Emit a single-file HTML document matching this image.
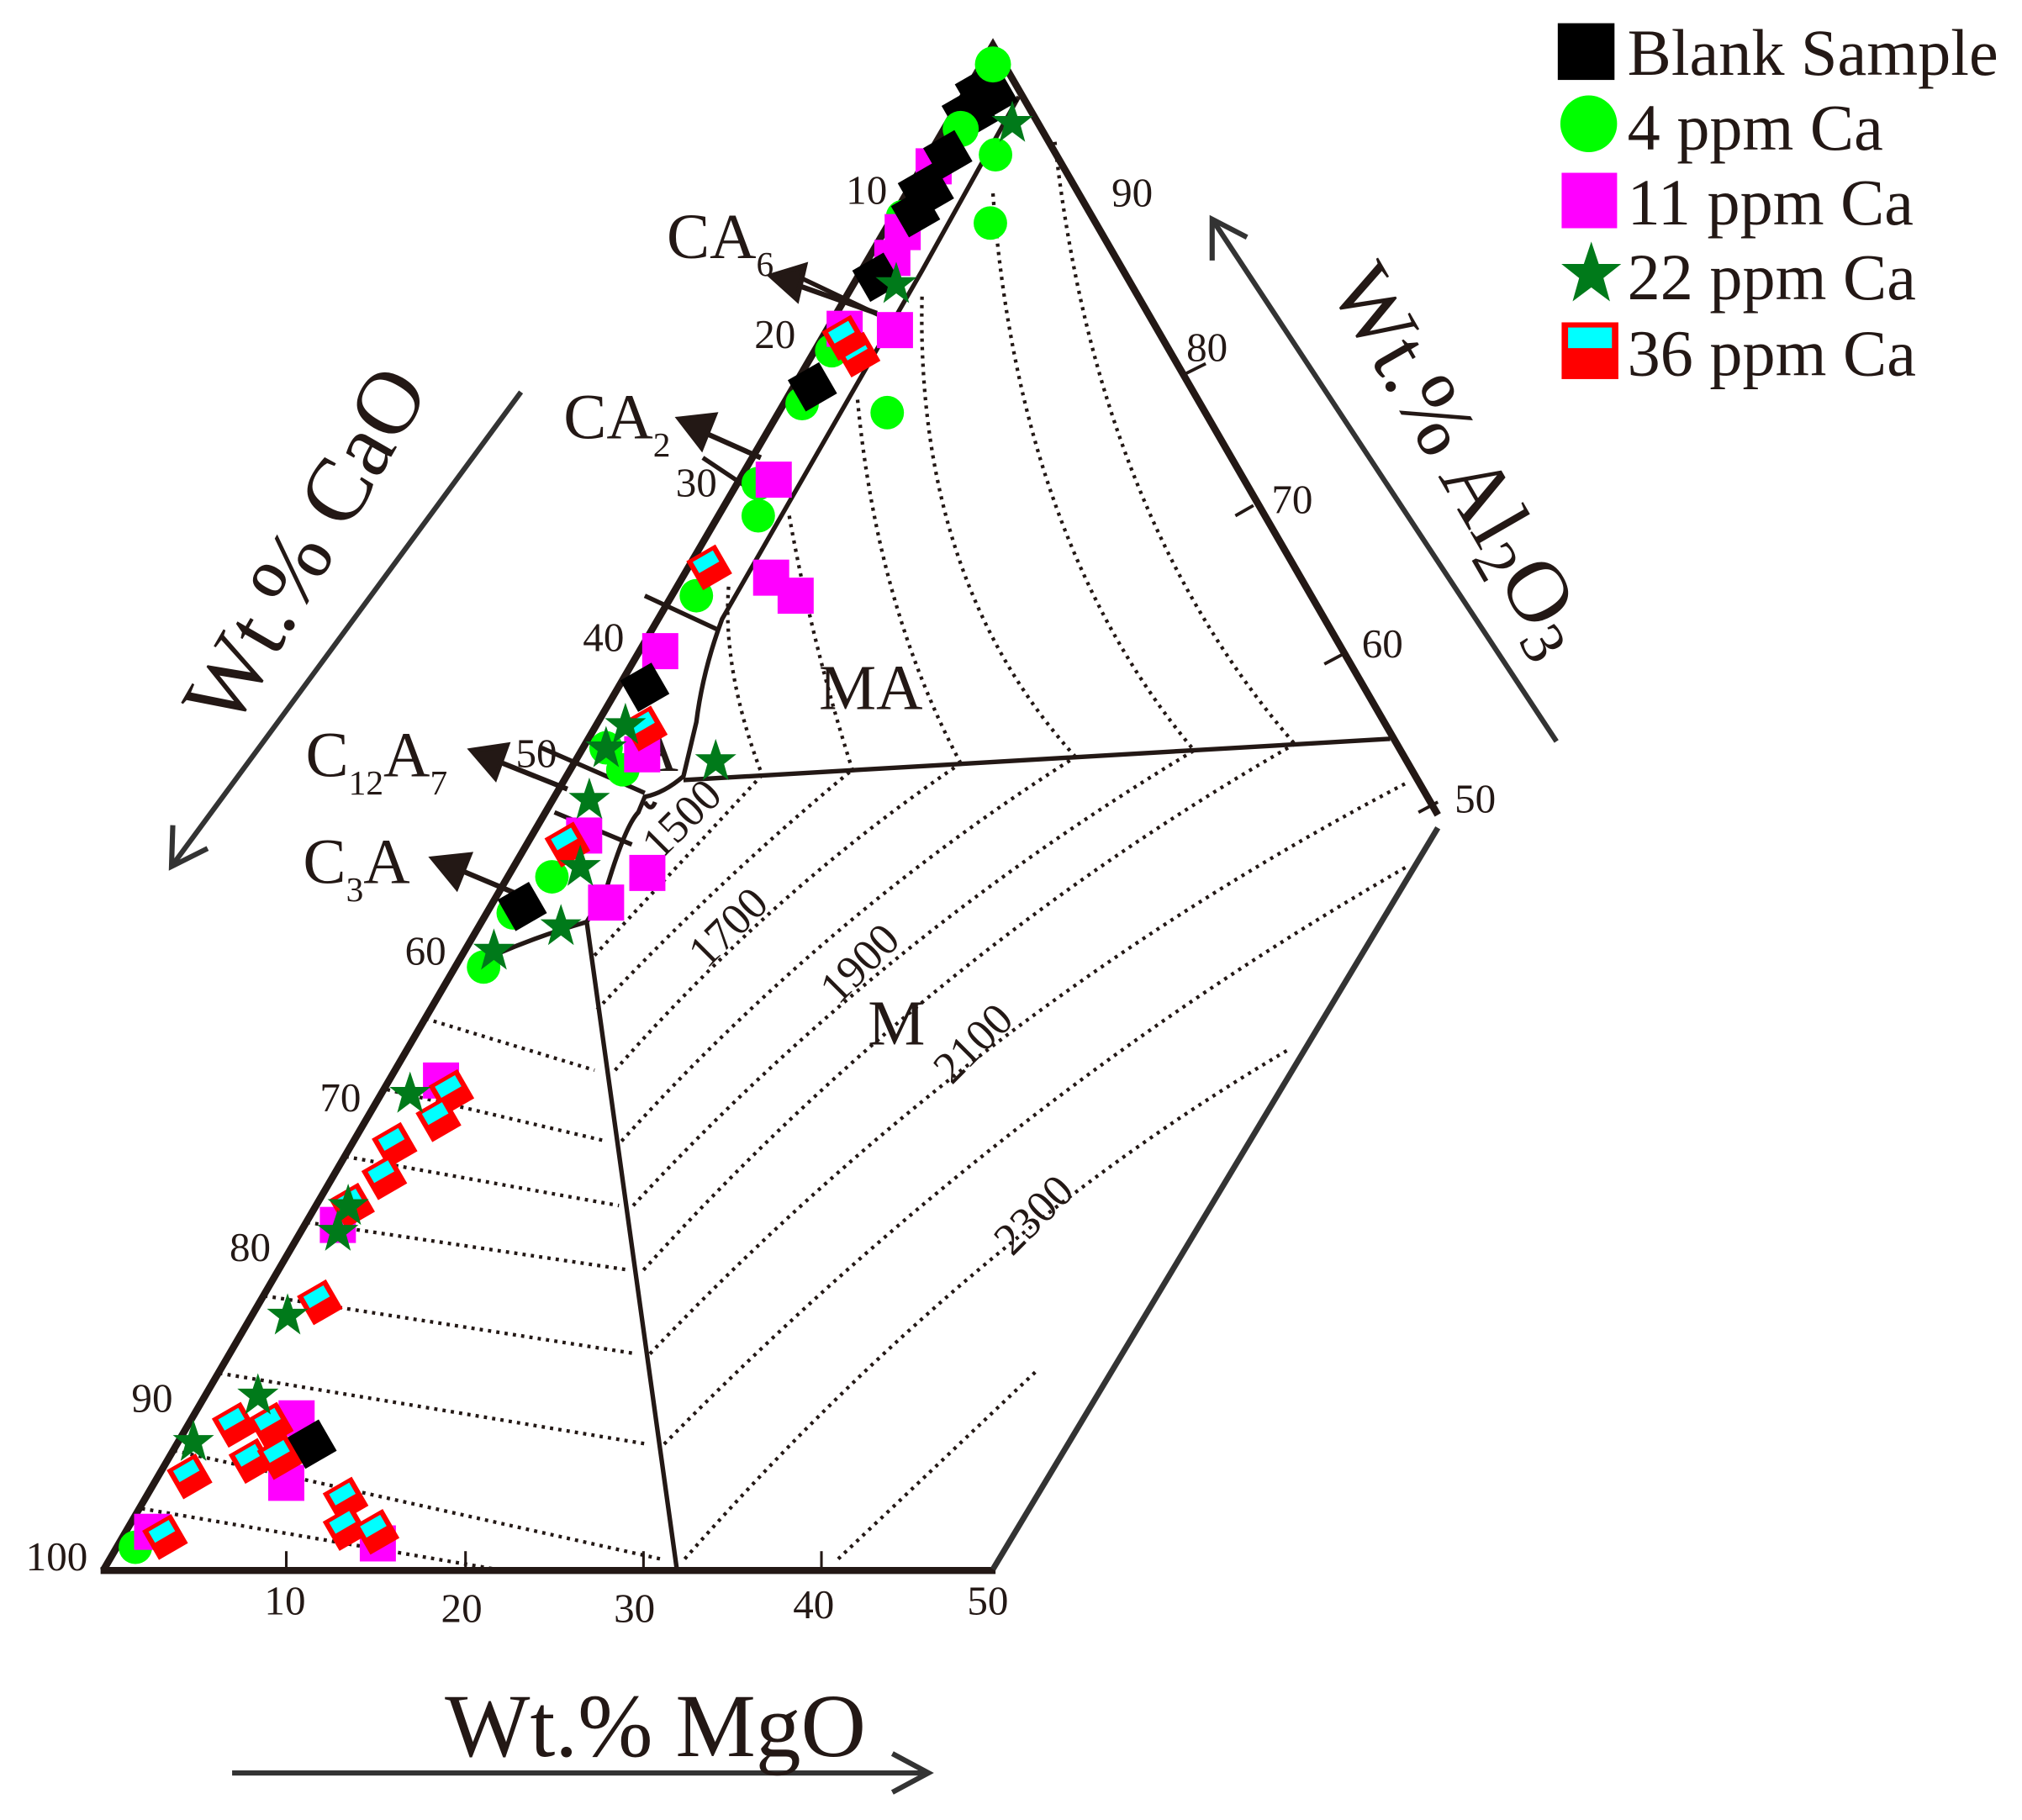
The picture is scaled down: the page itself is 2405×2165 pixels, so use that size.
<!DOCTYPE html>
<html><head><meta charset="utf-8"><style>
html,body{margin:0;padding:0;background:#fff;width:2405px;height:2165px;overflow:hidden}
svg{display:block}
text{font-family:"Liberation Serif",serif;fill:#231815}
</style></head><body>
<svg width="2405" height="2165" viewBox="0 0 1568 1411.5" preserveAspectRatio="none" xmlns="http://www.w3.org/2000/svg">
<defs>
<g id="rc"><rect x="-13" y="-13" width="26" height="26" fill="#f00"/><rect x="-9" y="-10" width="18" height="10" fill="#0ff"/></g>
<polygon id="st" points="0,-17 4,-5 16,-5 6.5,2.5 10,15 0,7.5 -10,15 -6.5,2.5 -16,-5 -4,-5" fill="#007a1a"/>
</defs>
<g stroke="#231815" fill="none">
<polyline points="80,1218 770,35 1115,632" stroke-width="5.5"/>
<line x1="78" y1="1218" x2="772" y2="1218" stroke-width="5.5"/>
<line x1="1115" y1="642" x2="770" y2="1217" stroke-width="4.5" stroke="#333"/>
<line x1="919" y1="290" x2="935" y2="282" stroke-width="2.5"/>
<line x1="958" y1="400" x2="972" y2="392" stroke-width="2.5"/>
<line x1="1027" y1="515" x2="1042" y2="507" stroke-width="2.5"/>
<line x1="1100" y1="630" x2="1115" y2="622" stroke-width="2.5"/>
<line x1="222" y1="1218" x2="222" y2="1203" stroke-width="2"/>
<line x1="361" y1="1218" x2="361" y2="1203" stroke-width="2"/>
<line x1="499" y1="1218" x2="499" y2="1203" stroke-width="2"/>
<line x1="637" y1="1218" x2="637" y2="1203" stroke-width="2"/>
<line x1="530" y1="605" x2="1078" y2="573" stroke-width="3.5"/>
<line x1="455" y1="715" x2="525" y2="1218" stroke-width="3.5"/>
<path d="M790,75 L715,210 L560,480 Q545,520 540,560 L530,602 Q515,615 500,618 L495,630 Q485,640 470,690 L455,715 Q420,725 385,740" stroke-width="3.5"/>
<path d="M620,215 L683,245 M545,355 L590,385 M500,462 L556,488 M420,580 L500,615 M430,630 L490,655 M500,622 Q505,630 508,622" stroke-width="3.5"/>
</g>
<g stroke="#231815" fill="none" stroke-width="2.8" stroke-dasharray="2.5,4">
<path d="M818,110 Q850,400 1004,577"/>
<path d="M770,150 Q790,420 926,582"/>
<path d="M715,230 Q710,450 834,587"/>
<path d="M665,310 Q680,470 745,592"/>
<path d="M612,400 Q630,500 661,597"/>
<path d="M565,455 Q560,520 591,601"/>
<path d="M461,741 L591,601"/>
<path d="M463,783 Q560,680 661,597"/>
<path d="M477,830 Q600,690 745,592"/>
<path d="M482,885 Q640,710 834,587"/>
<path d="M491,935 Q680,730 926,582"/>
<path d="M499,985 Q720,740 1004,577"/>
<path d="M504,1050 Q760,780 1093,606"/>
<path d="M515,1120 Q780,850 1093,671"/>
<path d="M531,1209 Q750,960 1001,813"/>
<path d="M650,1209 L804,1063"/>
<path d="M330,790 L461,830"/>
<path d="M300,845 L470,885"/>
<path d="M268,897 L480,935"/>
<path d="M238,948 L488,985"/>
<path d="M205,1005 L494,1050"/>
<path d="M170,1065 L502,1120"/>
<path d="M135,1125 L512,1209"/>
<path d="M110,1170 L390,1218"/>
</g>
<g font-size="32">
<text x="862" y="160">90</text><text x="920" y="280">80</text><text x="986" y="398">70</text><text x="1056" y="510">60</text><text x="1128" y="630">50</text>
<text x="656" y="158">10</text><text x="585" y="270">20</text><text x="524" y="385">30</text><text x="452" y="505">40</text><text x="400" y="595">50</text><text x="314" y="748">60</text><text x="248" y="862">70</text><text x="178" y="978">80</text><text x="102" y="1095">90</text><text x="20" y="1218">100</text>
<text x="205" y="1252">10</text><text x="342" y="1258">20</text><text x="476" y="1258">30</text><text x="615" y="1255">40</text><text x="750" y="1252">50</text>
</g>
<g font-size="35">
<text transform="translate(512,668) rotate(-45)">1500</text>
<text transform="translate(548,752) rotate(-45)">1700</text>
<text transform="translate(650,780) rotate(-45)">1900</text>
<text transform="translate(738,842) rotate(-45)">2100</text>
<text transform="translate(785,975) rotate(-45)">2300</text>
</g>
<g font-size="50">
<text x="635" y="550">MA</text><text x="673" y="810">M</text><text x="490" y="598">A</text>
<text x="517" y="200">CA<tspan font-size="27" dy="14">6</tspan></text>
<text x="437" y="340">CA<tspan font-size="27" dy="14">2</tspan></text>
<text x="237" y="602">C<tspan font-size="27" dy="14">12</tspan><tspan dy="-14">A</tspan><tspan font-size="27" dy="14">7</tspan></text>
<text x="235" y="685">C<tspan font-size="27" dy="14">3</tspan><tspan dy="-14">A</tspan></text>
</g>
<g stroke="#231815" stroke-width="4" fill="#231815">
<line x1="680" y1="243" x2="615" y2="220"/><polygon points="598,214 624,206 618,232"/>
<line x1="590" y1="355" x2="545" y2="335"/><polygon points="527,325 554,322 544,347"/>
<line x1="440" y1="612" x2="385" y2="590"/><polygon points="366,582 393,578 384,603"/>
<line x1="405" y1="695" x2="355" y2="674"/><polygon points="336,666 364,663 354,688"/>
</g>
<g fill="#000">
<g transform="rotate(-30 765 72)"><rect x="747" y="54" width="36" height="36"/></g>
<g transform="rotate(-30 752 88)"><rect x="736" y="72" width="32" height="32"/></g>
</g>
<g fill="#0f0">
<circle cx="770" cy="50" r="14"/><circle cx="745" cy="100" r="14"/><circle cx="772" cy="120" r="13"/><circle cx="768" cy="173" r="13"/><circle cx="700" cy="168" r="13"/><circle cx="645" cy="272" r="13"/><circle cx="688" cy="320" r="13"/><circle cx="622" cy="313" r="13"/><circle cx="588" cy="375" r="13"/><circle cx="588" cy="400" r="13"/><circle cx="540" cy="462" r="13"/><circle cx="483" cy="597" r="13"/><circle cx="470" cy="580" r="13"/><circle cx="428" cy="680" r="13"/><circle cx="398" cy="708" r="13"/><circle cx="375" cy="750" r="13"/><circle cx="105" cy="1200" r="13"/>
</g>
<g fill="#f0f">
<rect x="710" y="115" width="28" height="28"/><rect x="686" y="166" width="28" height="28"/><rect x="678" y="186" width="28" height="28"/><rect x="641" y="241" width="28" height="28"/><rect x="680" y="242" width="28" height="28"/><rect x="586" y="358" width="28" height="28"/><rect x="584" y="434" width="28" height="28"/><rect x="603" y="448" width="28" height="28"/><rect x="498" y="491" width="28" height="28"/><rect x="484" y="571" width="28" height="28"/><rect x="439" y="634" width="28" height="28"/><rect x="488" y="663" width="28" height="28"/><rect x="456" y="686" width="28" height="28"/><rect x="328" y="824" width="28" height="28"/><rect x="248" y="936" width="28" height="28"/><rect x="216" y="1086" width="28" height="28"/><rect x="208" y="1136" width="28" height="28"/><rect x="104" y="1174" width="28" height="28"/><rect x="279" y="1183" width="28" height="28"/>
</g>
<g>
<use href="#rc" transform="translate(550,440) rotate(-30)"/><use href="#rc" transform="translate(665,275) rotate(-30)"/><use href="#rc" transform="translate(655,262) rotate(-30)"/><use href="#rc" transform="translate(500,565) rotate(-30)"/><use href="#rc" transform="translate(440,655) rotate(-30)"/><use href="#rc" transform="translate(350,847) rotate(-30)"/><use href="#rc" transform="translate(340,868) rotate(-30)"/><use href="#rc" transform="translate(306,888) rotate(-30)"/><use href="#rc" transform="translate(298,913) rotate(-30)"/><use href="#rc" transform="translate(273,935) rotate(-30)"/><use href="#rc" transform="translate(248,1010) rotate(-30)"/><use href="#rc" transform="translate(182,1105) rotate(-30)"/><use href="#rc" transform="translate(210,1105) rotate(-30)"/><use href="#rc" transform="translate(147,1145) rotate(-30)"/><use href="#rc" transform="translate(195,1133) rotate(-30)"/><use href="#rc" transform="translate(217,1130) rotate(-30)"/><use href="#rc" transform="translate(268,1163) rotate(-30)"/><use href="#rc" transform="translate(268,1185) rotate(-30)"/><use href="#rc" transform="translate(128,1192) rotate(-30)"/><use href="#rc" transform="translate(292,1188) rotate(-30)"/>
</g>
<g fill="#000">
<g transform="rotate(-30 735 120)"><rect x="721" y="106" width="28" height="28"/></g>
<g transform="rotate(-30 718 148)"><rect x="702" y="132" width="32" height="32"/></g>
<g transform="rotate(-30 710 165)"><rect x="696" y="151" width="28" height="28"/></g>
<g transform="rotate(-30 680 215)"><rect x="666" y="201" width="28" height="28"/></g>
<g transform="rotate(-30 630 300)"><rect x="616" y="286" width="28" height="28"/></g>
<g transform="rotate(-30 500 533)"><rect x="486" y="519" width="28" height="28"/></g>
<g transform="rotate(-30 405 703)"><rect x="391" y="689" width="28" height="28"/></g>
<g transform="rotate(-30 242 1120)"><rect x="228" y="1106" width="28" height="28"/></g>
</g>
<g>
<use href="#st" x="785" y="95"/><use href="#st" x="695" y="220"/><use href="#st" x="485" y="562"/><use href="#st" x="470" y="580"/><use href="#st" x="555" y="590"/><use href="#st" x="457" y="620"/><use href="#st" x="450" y="672"/><use href="#st" x="435" y="718"/><use href="#st" x="383" y="737"/><use href="#st" x="318" y="848"/><use href="#st" x="262" y="955"/><use href="#st" x="270" y="935"/><use href="#st" x="223" y="1020"/><use href="#st" x="200" y="1082"/><use href="#st" x="150" y="1118"/>
</g>
<g stroke="#333" stroke-width="4" fill="none">
<line x1="180" y1="1375" x2="720" y2="1375"/><polyline points="692,1360 720,1375 692,1390"/>
<line x1="404" y1="304" x2="133" y2="672"/><polyline points="134,640 133,672 161,658"/>
<line x1="940" y1="170" x2="1207" y2="575"/><polyline points="940,202 940,170 967,184"/>
</g>
<text x="345" y="1362" font-size="70">Wt.% MgO</text>
<text transform="translate(180,568) rotate(-60)" font-size="70">Wt.% CaO</text>
<text transform="translate(1030,222) rotate(60)" font-size="68">Wt.% Al<tspan font-size="48" dy="10">2</tspan><tspan dy="-10">O</tspan><tspan font-size="48" dy="10">3</tspan></text>
<rect x="1208" y="18" width="44" height="44" fill="#000"/>
<circle cx="1232" cy="96" r="22" fill="#0f0"/>
<rect x="1211" y="134" width="43" height="43" fill="#f0f"/>
<use href="#st" transform="translate(1234,212) scale(1.45)"/>
<rect x="1211" y="250" width="44" height="44" fill="#f00"/><rect x="1216" y="254" width="34" height="16" fill="#0ff"/>
<g font-size="51">
<text x="1262" y="58">Blank Sample</text>
<text x="1262" y="116">4 ppm Ca</text>
<text x="1262" y="174">11 ppm Ca</text>
<text x="1262" y="232">22 ppm Ca</text>
<text x="1262" y="291">36 ppm Ca</text>
</g>
</svg>
</body></html>
